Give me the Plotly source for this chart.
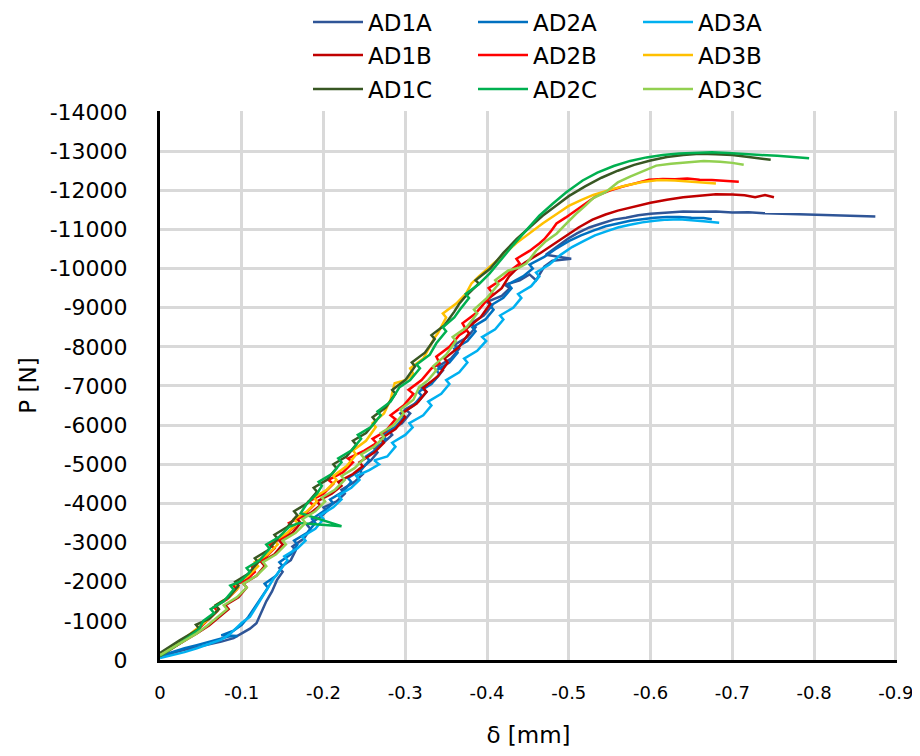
import plotly.graph_objects as go

# ---- data (delta [mm], P [N]) ----
AD1A = [(0,-80),(-0.015,-180),(-0.03,-260),(-0.045,-330),(-0.06,-400),(-0.075,-470),(-0.09,-560),(-0.1,-680),(-0.11,-800),(-0.118,-940),(-0.124,-1200),(-0.13,-1500),(-0.137,-1750),(-0.143,-2040),(-0.15,-2250),(-0.146,-2350),(-0.16,-2550),(-0.166,-2800),(-0.162,-2900),(-0.176,-3100),(-0.184,-3350),(-0.18,-3450),(-0.196,-3650),(-0.204,-3800),(-0.2,-3900),(-0.216,-4050),(-0.226,-4250),(-0.222,-4350),(-0.238,-4550),(-0.248,-4750),(-0.244,-4850),(-0.258,-5100),(-0.266,-5300),(-0.262,-5400),(-0.276,-5600),(-0.284,-5750),(-0.28,-5850),(-0.296,-6050),(-0.306,-6300),(-0.3,-6400),(-0.316,-6600),(-0.326,-6850),(-0.32,-6950),(-0.336,-7150),(-0.346,-7400),(-0.34,-7500),(-0.356,-7700),(-0.366,-7950),(-0.36,-8050),(-0.376,-8250),(-0.386,-8500),(-0.38,-8600),(-0.396,-8800),(-0.406,-9050),(-0.4,-9150),(-0.418,-9300),(-0.428,-9500),(-0.422,-9580),(-0.44,-9700),(-0.452,-9850),(-0.46,-9700),(-0.47,-10050),(-0.48,-10200),(-0.503,-10250),(-0.472,-10350),(-0.485,-10550),(-0.498,-10750),(-0.51,-10900),(-0.525,-11050),(-0.54,-11150),(-0.555,-11250),(-0.57,-11300),(-0.585,-11360),(-0.6,-11400),(-0.62,-11430),(-0.64,-11460),(-0.66,-11450),(-0.68,-11460),(-0.7,-11430),(-0.72,-11440),(-0.74,-11410),(-0.76,-11400),(-0.78,-11380),(-0.8,-11370),(-0.82,-11360),(-0.84,-11350),(-0.86,-11340),(-0.875,-11330)]

AD2A = [(0,-100),(-0.015,-200),(-0.03,-300),(-0.045,-380),(-0.06,-460),(-0.072,-540),(-0.084,-600),(-0.095,-615),(-0.075,-630),(-0.09,-750),(-0.1,-900),(-0.108,-1100),(-0.116,-1350),(-0.124,-1600),(-0.132,-1850),(-0.128,-1950),(-0.142,-2150),(-0.15,-2400),(-0.146,-2500),(-0.16,-2700),(-0.168,-2950),(-0.164,-3050),(-0.18,-3250),(-0.19,-3500),(-0.186,-3600),(-0.2,-3800),(-0.212,-4000),(-0.208,-4100),(-0.224,-4300),(-0.234,-4550),(-0.23,-4650),(-0.246,-4850),(-0.256,-5100),(-0.252,-5200),(-0.266,-5400),(-0.276,-5650),(-0.272,-5750),(-0.288,-5950),(-0.298,-6200),(-0.294,-6300),(-0.31,-6500),(-0.32,-6750),(-0.316,-6850),(-0.332,-7050),(-0.342,-7300),(-0.338,-7400),(-0.354,-7600),(-0.364,-7850),(-0.36,-7950),(-0.376,-8150),(-0.386,-8400),(-0.382,-8500),(-0.398,-8700),(-0.408,-8950),(-0.404,-9050),(-0.42,-9250),(-0.43,-9500),(-0.426,-9600),(-0.444,-9800),(-0.456,-10000),(-0.452,-10100),(-0.47,-10300),(-0.484,-10500),(-0.5,-10700),(-0.515,-10850),(-0.53,-10970),(-0.545,-11080),(-0.56,-11150),(-0.575,-11220),(-0.59,-11260),(-0.605,-11300),(-0.62,-11320),(-0.635,-11320),(-0.65,-11300),(-0.665,-11290),(-0.675,-11260)]

AD3A = [(0,-50),(-0.015,-120),(-0.03,-200),(-0.045,-300),(-0.06,-400),(-0.075,-520),(-0.085,-650),(-0.094,-840),(-0.1,-950),(-0.11,-1100),(-0.116,-1300),(-0.122,-1530),(-0.13,-1800),(-0.138,-2050),(-0.147,-2300),(-0.156,-2550),(-0.152,-2650),(-0.168,-2850),(-0.178,-3050),(-0.174,-3150),(-0.19,-3350),(-0.2,-3600),(-0.196,-3700),(-0.212,-3900),(-0.222,-4100),(-0.218,-4200),(-0.234,-4400),(-0.244,-4600),(-0.24,-4700),(-0.256,-4850),(-0.268,-5000),(-0.262,-5100),(-0.278,-5200),(-0.288,-5450),(-0.284,-5550),(-0.3,-5750),(-0.309,-5940),(-0.305,-6050),(-0.322,-6250),(-0.332,-6500),(-0.328,-6600),(-0.344,-6800),(-0.354,-7050),(-0.35,-7150),(-0.366,-7350),(-0.376,-7600),(-0.372,-7700),(-0.388,-7900),(-0.399,-8150),(-0.394,-8250),(-0.41,-8450),(-0.42,-8700),(-0.416,-8800),(-0.432,-9000),(-0.442,-9250),(-0.438,-9350),(-0.454,-9550),(-0.464,-9800),(-0.46,-9900),(-0.476,-10100),(-0.49,-10350),(-0.504,-10550),(-0.518,-10700),(-0.532,-10850),(-0.546,-10950),(-0.56,-11050),(-0.575,-11120),(-0.59,-11180),(-0.605,-11220),(-0.62,-11250),(-0.635,-11260),(-0.65,-11240),(-0.665,-11210),(-0.684,-11170)]

AD1B = [(0,-120),(-0.015,-300),(-0.03,-480),(-0.045,-680),(-0.06,-880),(-0.072,-1080),(-0.084,-1300),(-0.08,-1400),(-0.096,-1600),(-0.106,-1850),(-0.102,-1950),(-0.118,-2150),(-0.128,-2400),(-0.124,-2500),(-0.14,-2700),(-0.15,-2950),(-0.146,-3050),(-0.162,-3250),(-0.172,-3500),(-0.168,-3600),(-0.184,-3750),(-0.196,-3950),(-0.192,-4050),(-0.21,-4250),(-0.222,-4450),(-0.218,-4550),(-0.236,-4750),(-0.248,-4950),(-0.244,-5050),(-0.262,-5300),(-0.274,-5550),(-0.27,-5650),(-0.288,-5900),(-0.3,-6200),(-0.296,-6300),(-0.314,-6550),(-0.326,-6850),(-0.322,-6950),(-0.34,-7250),(-0.352,-7600),(-0.348,-7700),(-0.366,-8000),(-0.378,-8350),(-0.374,-8450),(-0.392,-8750),(-0.404,-9100),(-0.4,-9200),(-0.418,-9500),(-0.427,-9800),(-0.434,-9950),(-0.446,-10150),(-0.464,-10380),(-0.48,-10600),(-0.497,-10840),(-0.512,-11050),(-0.529,-11250),(-0.545,-11380),(-0.56,-11480),(-0.58,-11580),(-0.6,-11680),(-0.62,-11760),(-0.64,-11820),(-0.66,-11860),(-0.68,-11900),(-0.7,-11890),(-0.715,-11870),(-0.728,-11820),(-0.74,-11880),(-0.751,-11820)]

AD2B = [(0,-100),(-0.015,-300),(-0.03,-500),(-0.045,-750),(-0.058,-1000),(-0.07,-1250),(-0.066,-1350),(-0.082,-1550),(-0.094,-1800),(-0.09,-1900),(-0.106,-2050),(-0.116,-2250),(-0.112,-2400),(-0.128,-2600),(-0.14,-2850),(-0.134,-2950),(-0.152,-3150),(-0.164,-3400),(-0.158,-3500),(-0.176,-3700),(-0.188,-3950),(-0.182,-4050),(-0.2,-4250),(-0.212,-4500),(-0.206,-4600),(-0.224,-4800),(-0.236,-5050),(-0.23,-5150),(-0.25,-5350),(-0.265,-5540),(-0.26,-5650),(-0.276,-5850),(-0.288,-6150),(-0.282,-6250),(-0.298,-6500),(-0.31,-6800),(-0.304,-6900),(-0.32,-7150),(-0.332,-7450),(-0.342,-7580),(-0.338,-7750),(-0.354,-8000),(-0.366,-8300),(-0.375,-8420),(-0.37,-8600),(-0.386,-8850),(-0.398,-9150),(-0.407,-9360),(-0.402,-9500),(-0.42,-9750),(-0.432,-10000),(-0.44,-10130),(-0.436,-10250),(-0.452,-10450),(-0.464,-10640),(-0.47,-10750),(-0.478,-10950),(-0.485,-11150),(-0.496,-11300),(-0.513,-11560),(-0.524,-11720),(-0.534,-11860),(-0.55,-11990),(-0.565,-12090),(-0.58,-12170),(-0.598,-12270),(-0.615,-12290),(-0.63,-12280),(-0.645,-12300),(-0.66,-12270),(-0.675,-12260),(-0.69,-12250),(-0.708,-12220)]

AD3B = [(0,-150),(-0.015,-350),(-0.03,-550),(-0.045,-800),(-0.06,-1050),(-0.072,-1300),(-0.068,-1400),(-0.084,-1600),(-0.096,-1850),(-0.092,-1950),(-0.108,-2150),(-0.12,-2400),(-0.116,-2500),(-0.132,-2700),(-0.144,-2950),(-0.14,-3050),(-0.156,-3250),(-0.168,-3500),(-0.164,-3600),(-0.18,-3800),(-0.192,-4050),(-0.188,-4150),(-0.204,-4350),(-0.216,-4600),(-0.212,-4700),(-0.228,-4950),(-0.24,-5250),(-0.236,-5350),(-0.252,-5600),(-0.264,-5950),(-0.26,-6050),(-0.274,-6300),(-0.282,-6650),(-0.287,-7070),(-0.3,-7150),(-0.31,-7300),(-0.306,-7450),(-0.322,-7700),(-0.336,-8240),(-0.34,-8350),(-0.35,-8750),(-0.346,-8850),(-0.362,-9100),(-0.374,-9350),(-0.381,-9620),(-0.39,-9800),(-0.404,-10050),(-0.42,-10350),(-0.436,-10650),(-0.452,-10900),(-0.468,-11150),(-0.488,-11430),(-0.5,-11600),(-0.515,-11750),(-0.53,-11880),(-0.55,-12010),(-0.57,-12120),(-0.59,-12210),(-0.61,-12260),(-0.63,-12250),(-0.65,-12220),(-0.665,-12200),(-0.68,-12170)]

AD1C = [(0,-180),(-0.012,-350),(-0.024,-500),(-0.036,-650),(-0.048,-800),(-0.044,-900),(-0.06,-1050),(-0.072,-1300),(-0.068,-1400),(-0.084,-1600),(-0.096,-1900),(-0.092,-2000),(-0.108,-2200),(-0.12,-2500),(-0.116,-2600),(-0.132,-2800),(-0.144,-3100),(-0.14,-3200),(-0.156,-3400),(-0.168,-3700),(-0.164,-3800),(-0.18,-4000),(-0.192,-4300),(-0.188,-4400),(-0.204,-4600),(-0.216,-4900),(-0.212,-5000),(-0.228,-5200),(-0.24,-5500),(-0.236,-5600),(-0.252,-5800),(-0.264,-6100),(-0.26,-6200),(-0.276,-6450),(-0.288,-6800),(-0.284,-6900),(-0.3,-7150),(-0.312,-7500),(-0.308,-7600),(-0.324,-7850),(-0.336,-8200),(-0.332,-8300),(-0.348,-8550),(-0.36,-8900),(-0.366,-9100),(-0.372,-9250),(-0.39,-9620),(-0.386,-9700),(-0.404,-10000),(-0.42,-10400),(-0.436,-10750),(-0.452,-11050),(-0.468,-11350),(-0.484,-11600),(-0.5,-11850),(-0.52,-12100),(-0.54,-12320),(-0.56,-12500),(-0.58,-12650),(-0.6,-12760),(-0.62,-12850),(-0.64,-12900),(-0.66,-12930),(-0.68,-12920),(-0.7,-12900),(-0.72,-12850),(-0.735,-12820),(-0.747,-12780)]

AD2C = [(0,-100),(-0.012,-250),(-0.024,-420),(-0.036,-600),(-0.048,-800),(-0.053,-1000),(-0.066,-1200),(-0.062,-1300),(-0.078,-1500),(-0.09,-1800),(-0.086,-1900),(-0.098,-2000),(-0.11,-2250),(-0.106,-2350),(-0.122,-2550),(-0.134,-2850),(-0.13,-2950),(-0.146,-3150),(-0.158,-3400),(-0.17,-3500),(-0.222,-3420),(-0.172,-3750),(-0.18,-4000),(-0.192,-4250),(-0.198,-4450),(-0.194,-4550),(-0.21,-4750),(-0.222,-5050),(-0.218,-5150),(-0.234,-5350),(-0.246,-5650),(-0.242,-5750),(-0.258,-5950),(-0.27,-6250),(-0.266,-6350),(-0.282,-6600),(-0.293,-6970),(-0.306,-7150),(-0.318,-7450),(-0.314,-7550),(-0.33,-7800),(-0.338,-8090),(-0.35,-8400),(-0.346,-8500),(-0.36,-8750),(-0.366,-8930),(-0.378,-9250),(-0.374,-9350),(-0.39,-9600),(-0.403,-9870),(-0.418,-10250),(-0.432,-10600),(-0.449,-11000),(-0.464,-11350),(-0.48,-11650),(-0.497,-11950),(-0.517,-12250),(-0.535,-12450),(-0.555,-12620),(-0.575,-12750),(-0.595,-12840),(-0.615,-12900),(-0.635,-12940),(-0.655,-12960),(-0.675,-12970),(-0.695,-12950),(-0.715,-12920),(-0.735,-12900),(-0.755,-12880),(-0.775,-12850),(-0.794,-12820)]

AD3C = [(0,-120),(-0.015,-300),(-0.03,-480),(-0.045,-680),(-0.058,-880),(-0.07,-1080),(-0.082,-1300),(-0.078,-1400),(-0.094,-1600),(-0.106,-1850),(-0.102,-1950),(-0.118,-2150),(-0.13,-2400),(-0.126,-2500),(-0.142,-2700),(-0.154,-2950),(-0.15,-3050),(-0.166,-3250),(-0.178,-3500),(-0.174,-3600),(-0.19,-3800),(-0.202,-4050),(-0.198,-4150),(-0.214,-4350),(-0.226,-4600),(-0.222,-4700),(-0.238,-4900),(-0.25,-5150),(-0.246,-5250),(-0.262,-5450),(-0.274,-5700),(-0.27,-5800),(-0.286,-6000),(-0.298,-6300),(-0.294,-6400),(-0.31,-6650),(-0.317,-6970),(-0.328,-7150),(-0.338,-7400),(-0.334,-7500),(-0.35,-7800),(-0.362,-8150),(-0.358,-8250),(-0.375,-8500),(-0.388,-8850),(-0.384,-8950),(-0.4,-9250),(-0.414,-9600),(-0.41,-9700),(-0.426,-9950),(-0.44,-10030),(-0.448,-10130),(-0.46,-10450),(-0.472,-10700),(-0.485,-10890),(-0.497,-11150),(-0.509,-11400),(-0.52,-11600),(-0.53,-11800),(-0.545,-11950),(-0.56,-12200),(-0.575,-12350),(-0.59,-12480),(-0.607,-12630),(-0.625,-12680),(-0.645,-12720),(-0.665,-12750),(-0.685,-12730),(-0.7,-12700),(-0.714,-12650)]

series_names = ["AD1A", "AD2A", "AD3A", "AD1B", "AD2B", "AD3B", "AD1C", "AD2C", "AD3C"]
series_data = [AD1A, AD2A, AD3A, AD1B, AD2B, AD3B, AD1C, AD2C, AD3C]
series_colors = ["#2F5597", "#0070C0", "#00B0F0", "#C00000", "#FF0000", "#FFC000", "#385723", "#00B050", "#92D050"]

x_tick_vals = [0, -0.1, -0.2, -0.3, -0.4, -0.5, -0.6, -0.7, -0.8, -0.9]
x_tick_text = ["0", "-0.1", "-0.2", "-0.3", "-0.4", "-0.5", "-0.6", "-0.7", "-0.8", "-0.9"]
y_tick_vals = [0, -1000, -2000, -3000, -4000, -5000, -6000, -7000, -8000, -9000, -10000, -11000, -12000, -13000, -14000]
y_tick_text = ["0", "-1000", "-2000", "-3000", "-4000", "-5000", "-6000", "-7000", "-8000", "-9000", "-10000", "-11000", "-12000", "-13000", "-14000"]
x_range = [0, -0.9015]      # tiny overshoot so the edge gridline is drawn
y_range = [0, -14025]

FONT = "DejaVu Sans"
W, H = 912, 740  # page body has an 8px margin
legend_ids = ["legend", "legend2", "legend3"]

fig = go.Figure()
for i, (name, data, color) in enumerate(zip(series_names, series_data, series_colors)):
    xs = [p[0] for p in data]
    ys = [p[1] for p in data]
    fig.add_trace(go.Scatter(
        x=xs, y=ys, mode="lines", name=name,
        line=dict(color=color, width=2.5),
        legend=legend_ids[i // 3],
    ))

def leg(ycenter):
    return dict(
        orientation="h", xref="container", yref="container",
        x=300 / W, y=1 - ycenter / H, xanchor="left", yanchor="middle",
        entrywidth=100, entrywidthmode="pixels",
        font=dict(family=FONT, size=23, color="#000000"),
        bgcolor="rgba(0,0,0,0)", borderwidth=0, itemwidth=50,
        tracegroupgap=0,
    )

fig.update_layout(
    width=W, height=H,
    margin=dict(l=152, r=23, t=103, b=88, autoexpand=False),
    paper_bgcolor="white", plot_bgcolor="white",
    font=dict(family=FONT, size=21, color="#000000"),
    showlegend=True,
    legend=leg(14),
    legend2=leg(47),
    legend3=leg(81),
    xaxis=dict(
        range=x_range, tickvals=x_tick_vals, ticktext=x_tick_text,
        showgrid=True, gridcolor="#D9D9D9", gridwidth=2.5,
        showline=True, linecolor="#000000", linewidth=3, mirror=False,
        zeroline=False, ticks="", ticklabelstandoff=14,
        tickfont=dict(family=FONT, size=18),
        title=dict(text="δ [mm]", font=dict(family=FONT, size=23), standoff=32),
        automargin=False,
    ),
    yaxis=dict(
        range=y_range, tickvals=y_tick_vals, ticktext=y_tick_text,
        showgrid=True, gridcolor="#D9D9D9", gridwidth=2.5,
        showline=True, linecolor="#000000", linewidth=3, mirror=False,
        zeroline=False, ticks="", ticklabelstandoff=25,
        tickfont=dict(family=FONT, size=22),
        title=dict(text="P [N]", font=dict(family=FONT, size=23), standoff=7),
        automargin=False,
    ),
)

fig.write_html("out.html")
